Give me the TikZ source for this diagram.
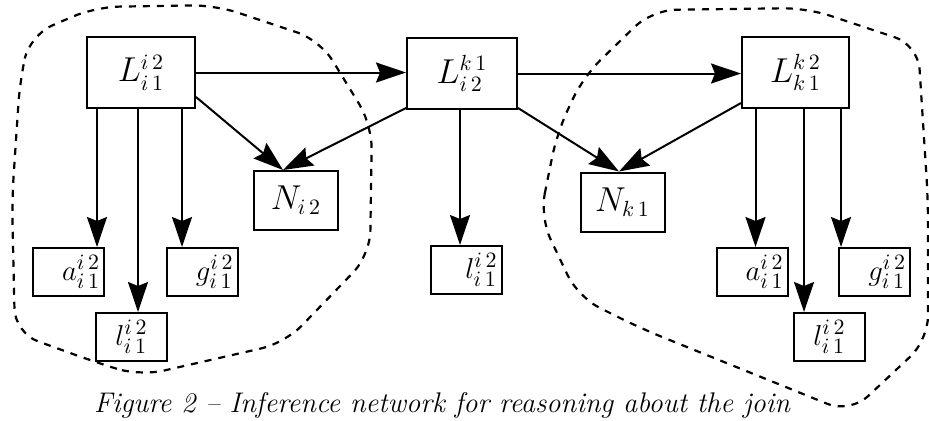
\documentclass[tikz,border=0pt]{standalone}
\usetikzlibrary{arrows.meta}
\usepackage{amsmath}

\begin{document}
\begin{tikzpicture}[x=0.5pt, y=-0.5pt,
    lbox/.style={draw, line width=1pt, minimum width=54pt, minimum height=35.5pt, inner sep=0pt, font=\fontsize{16}{18}\selectfont},
    nbox/.style={draw, line width=1pt, minimum width=42pt, minimum height=29.5pt, inner sep=0pt, font=\fontsize{16}{18}\selectfont},
    leaf/.style={draw, line width=1pt, text width=31.5pt, inner xsep=2pt, inner ysep=0pt, minimum height=24pt, align=right, font=\fontsize{15}{17}\selectfont},
    link/.style={-{Stealth[length=15pt, width=10pt, inset=2pt]}, line width=1pt},
    region/.style={dash pattern=on 3.5pt off 3.5pt, line width=1.1pt, rounded corners=12pt}]
    \useasboundingbox (0,0) rectangle (929,420);

    % Regions (dashed outlines)
    \draw[region] (20,80) -- (30,35) -- (95,7) -- (215,5) -- (320,40) -- (372,125) -- (370,255) -- (285,343) -- (140,376) -- (95,362) -- (15,333) -- (12,200) -- cycle;
    \draw[region] (540,217) -- (557,133) -- (583,77) -- (652,10) -- (807,8) -- (918,45) -- (928,200) -- (928,340) -- (850,413) -- (640,328) -- (578,297) -- cycle;

    % Upper boxes
    \node[lbox] (Li1) at (141,72.5) {$L^{i\,2}_{i\,1}$};
    \node[lbox, minimum width=55pt] (Li2) at (462,73.5) {$L^{k\,1}_{i\,2}$};
    \node[lbox, minimum width=53.5pt] (Lk1) at (795.5,72.5) {$L^{k\,2}_{k\,1}$};

    % N boxes
    \node[nbox] (Ni2) at (296,200.5) {$N_{i\,2}$};
    \node[nbox] (Nk1) at (622.5,202) {$N_{k\,1}$};

    % Leaves
    \node[leaf] (ai) at (68.5,272) {$a^{i\,2}_{i\,1}$};
    \node[leaf] (gi) at (202,272) {$g^{i\,2}_{i\,1}$};
    \node[leaf, align=center] (li) at (131.5,337) {$l^{i\,2}_{i\,1}$};
    \node[leaf] (lm) at (466,270) {$l^{i\,2}_{i\,1}$};
    \node[leaf] (ak) at (752,272) {$a^{i\,2}_{i\,1}$};
    \node[leaf] (gk) at (874.5,272) {$g^{i\,2}_{i\,1}$};
    \node[leaf, align=center] (lk) at (829.5,337) {$l^{i\,2}_{i\,1}$};

    % Arrows between upper boxes
    \draw[link] (Li1.east) -- (Li1.east -| Li2.west);
    \draw[link] (Li2.east) -- (Li2.east -| Lk1.west);

    % Arrows to N boxes
    \draw[link] ([yshift=6pt]Li1.south east) -- ([xshift=-6.5pt]Ni2.north);
    \draw[link] ([yshift=1pt]Li2.south west) -- ([xshift=-6.5pt]Ni2.north);
    \draw[link] ([yshift=1pt]Li2.south east) -- ([xshift=-1.75pt]Nk1.north);
    \draw[link] ([yshift=3pt]Lk1.south west) -- ([xshift=-1.75pt]Nk1.north);

    % Arrows to leaves
    \draw[link] ([xshift=-22pt]Li1.south) -- ([xshift=-22pt]Li1.south |- ai.north);
    \draw[link] ([xshift=-1.5pt]Li1.south) -- ([xshift=-1.5pt]Li1.south |- li.north);
    \draw[link] ([xshift=20.5pt]Li1.south) -- ([xshift=20.5pt]Li1.south |- gi.north);
    \draw[link] ([xshift=-1pt]Li2.south) -- ([xshift=-1pt]Li2.south |- lm.north);
    \draw[link] ([xshift=-20pt]Lk1.south) -- ([xshift=-20pt]Lk1.south |- ak.north);
    \draw[link] ([xshift=4.25pt]Lk1.south) -- ([xshift=4.25pt]Lk1.south |- lk.north);
    \draw[link] ([xshift=22.75pt]Lk1.south) -- ([xshift=22.75pt]Lk1.south |- gk.north);

    % Caption
    \node[anchor=base, font=\fontsize{14.2}{16}\selectfont\itshape] (caption) at (442,412) {Figure 2 -- Inference network for reasoning about the join};
\end{tikzpicture}
\end{document}
